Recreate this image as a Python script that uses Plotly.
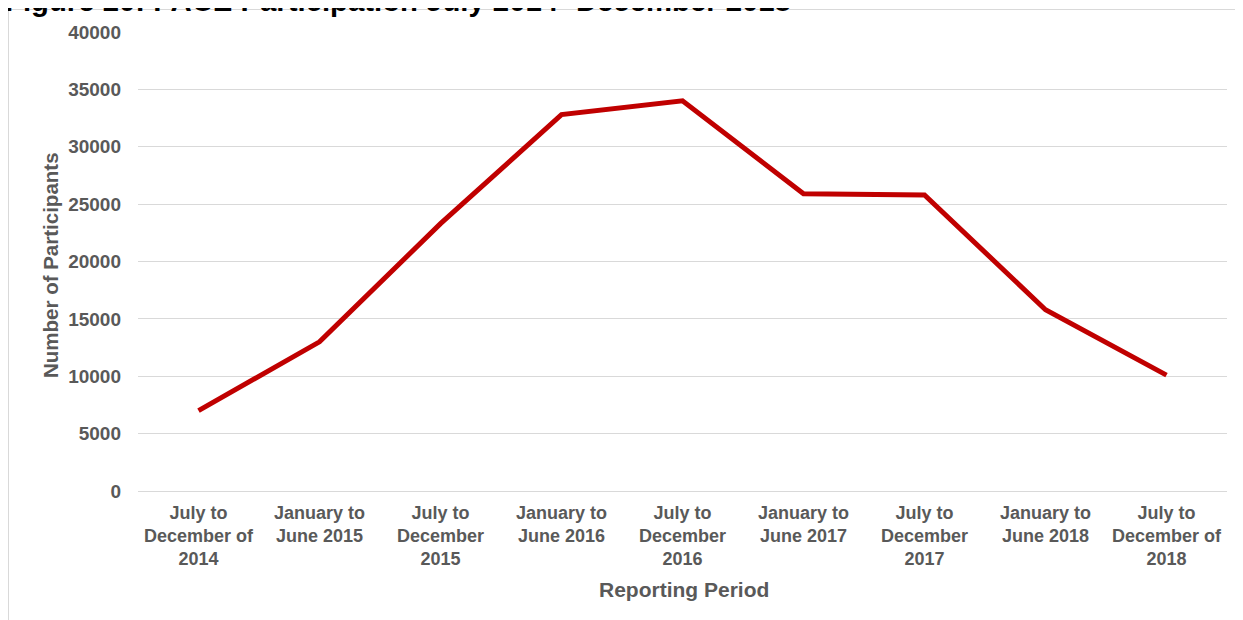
import plotly.graph_objects as go

# reporting periods and participant counts
periods = [
    "July to<br>December of<br>2014",
    "January to<br>June 2015",
    "July to<br>December<br>2015",
    "January to<br>June 2016",
    "July to<br>December<br>2016",
    "January to<br>June 2017",
    "July to<br>December<br>2017",
    "January to<br>June 2018",
    "July to<br>December of<br>2018",
]
participants = [7000, 13000, 23300, 32800, 34000, 25900, 25800, 15800, 10100]
y_ticks = [0, 5000, 10000, 15000, 20000, 25000, 30000, 35000, 40000]

title_text = "Figure 20: PACE Participation July 2014- December 2018"
x_title = "Reporting Period"
y_title = "Number of Participants"

# the page body has an 8px margin, so the figure sits at (8, 8) in the window
OFF = 8
W, H = 1243 - OFF, 620 - OFF
L, R, T, B = 138 - OFF, 1243 - 1227, 32 - OFF, 620 - 491
pw, ph = W - L - R, H - T - B


def px_x(p):
    # window pixel -> paper x
    return (p - OFF - L) / pw


def px_y(p):
    # window pixel -> paper y
    return (H - B - (p - OFF)) / ph


grey = "#595959"
font = "Liberation Sans, Arial, sans-serif"

fig = go.Figure(go.Scatter(
    x=periods, y=participants, mode="lines",
    line=dict(color="#C00000", width=5),
    hoverinfo="x+y",
))

fig.update_layout(
    width=W, height=H,
    margin=dict(l=L, r=R, t=T, b=B, autoexpand=False),
    paper_bgcolor="white", plot_bgcolor="white",
    showlegend=False,
    font=dict(family=font, color=grey),
    xaxis=dict(
        range=[-0.5, 8.5], automargin=False,
        showgrid=False, showline=True, linecolor="#d9d9d9", linewidth=1,
        tickfont=dict(size=18, color=grey, family=font, weight="bold"),
        ticks="", ticklabelstandoff=5,
    ),
    yaxis=dict(
        range=[0, 40000], tickvals=y_ticks, ticktext=[str(v) for v in y_ticks],
        automargin=False,
        showgrid=True, gridcolor="#d9d9d9", gridwidth=1,
        zeroline=False, showline=False, ticks="",
        tickfont=dict(size=19, color=grey, family=font, weight="bold"),
        ticklabelstandoff=16,
    ),
    shapes=[dict(
        type="rect", xref="paper", yref="paper",
        x0=px_x(8.5), x1=px_x(1270), y0=px_y(650), y1=px_y(9.5),
        line=dict(color="#d9d9d9", width=1), fillcolor="rgba(0,0,0,0)",
        layer="below",
    )],
    annotations=[
        # title sits partly above the visible page, as in the source image
        dict(text="<b>" + title_text + "</b>", xref="paper", yref="paper",
             x=px_x(3), y=px_y(19.5), xanchor="left", yanchor="bottom",
             showarrow=False, font=dict(size=29.3, color="black", family=font)),
        dict(text="<b>" + x_title + "</b>", xref="paper", yref="paper",
             x=px_x(684), y=px_y(589), xanchor="center", yanchor="middle",
             showarrow=False, font=dict(size=21, color=grey, family=font)),
        dict(text="<b>" + y_title + "</b>", xref="paper", yref="paper",
             x=px_x(50), y=px_y(265), xanchor="center", yanchor="middle",
             textangle=-90, showarrow=False,
             font=dict(size=20.5, color=grey, family=font)),
    ],
)

fig.write_html("out.html")
